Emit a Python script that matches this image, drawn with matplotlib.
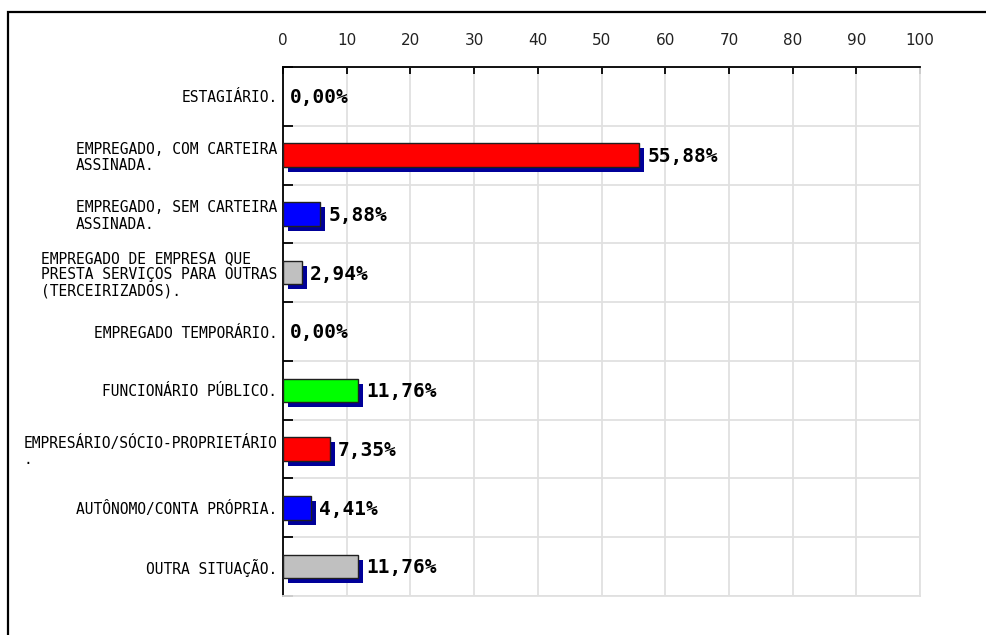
import matplotlib.pyplot as plt
from matplotlib.patches import Rectangle
from matplotlib.transforms import ScaledTranslation

# situação de trabalho dos respondentes (%)
categorias = [
    "ESTAGIÁRIO.",
    "EMPREGADO, COM CARTEIRA\nASSINADA.",
    "EMPREGADO, SEM CARTEIRA\nASSINADA.",
    "EMPREGADO DE EMPRESA QUE\nPRESTA SERVIÇOS PARA OUTRAS\n(TERCEIRIZADOS).",
    "EMPREGADO TEMPORÁRIO.",
    "FUNCIONÁRIO PÚBLICO.",
    "EMPRESÁRIO/SÓCIO-PROPRIETÁRIO\n.",
    "AUTÔNOMO/CONTA PRÓPRIA.",
    "OUTRA SITUAÇÃO.",
]
percentuais = [0.00, 55.88, 5.88, 2.94, 0.00, 11.76, 7.35, 4.41, 11.76]
cores = ["#ff0000", "#ff0000", "#0000ff", "#c0c0c0", "#00ff00",
         "#00ff00", "#ff0000", "#0000ff", "#c0c0c0"]
escala = list(range(0, 101, 10))

W, H = 986, 635
fig = plt.figure(figsize=(W / 100, H / 100), dpi=100)
fig.patch.set_facecolor("white")

# moldura externa
fig.patches.append(Rectangle((8 / W, -0.1), 1.2, 1 - 12 / H + 0.1,
                             transform=fig.transFigure, fill=False,
                             edgecolor="black", linewidth=1.6))

x0, x1, y0, y1 = 283, 920, 67, 596
ax = fig.add_axes([x0 / W, 1 - y1 / H, (x1 - x0) / W, (y1 - y0) / H])

pos = list(range(len(categorias)))
altura = 0.4

# sombra 3D deslocada para direita e para baixo
sombra = ax.transData + ScaledTranslation(5 / 100, -5 / 100, fig.dpi_scale_trans)
for y, v in zip(pos, percentuais):
    if v > 0:
        ax.barh(y, v, height=altura, color="#000099", transform=sombra,
                zorder=2, clip_on=False)
ax.barh([p for p, v in zip(pos, percentuais) if v > 0],
        [v for v in percentuais if v > 0], height=altura,
        color=[c for c, v in zip(cores, percentuais) if v > 0],
        edgecolor="#202020", linewidth=1, zorder=3)

for y, v in zip(pos, percentuais):
    txt = f"{v:.2f}%".replace(".", ",")
    ax.annotate(txt, (v, y), xytext=(6 if v > 0 else 5, -1),
                textcoords="offset points", va="center", ha="left",
                family="DejaVu Sans Mono", fontweight="bold", fontsize=14,
                zorder=4)

ax.set_xlim(0, 100)
ax.set_ylim(len(categorias) - 0.5, -0.5)
ax.set_xticks(escala)
ax.xaxis.tick_top()
ax.tick_params(axis="x", direction="in", length=5, width=1.3, color="black",
               pad=14, labelsize=11, labelcolor="#222222")
ax.set_yticks(pos)
ax.set_yticklabels(categorias, family="DejaVu Sans Mono", fontsize=10.5,
                   multialignment="left", linespacing=1.1)
ax.tick_params(axis="y", which="major", length=0, pad=4)
ax.set_yticks([p - 0.5 for p in pos] + [len(pos) - 0.5], minor=True)
ax.tick_params(axis="y", which="minor", direction="in", length=7,
               width=1.3, color="black")

ax.grid(True, which="major", axis="x", color="#e0e0e0", linewidth=1.3, zorder=0)
ax.grid(True, which="minor", axis="y", color="#e0e0e0", linewidth=1.3, zorder=0)
ax.set_axisbelow(True)
for lado in ("top", "left"):
    ax.spines[lado].set_color("black")
    ax.spines[lado].set_linewidth(1.3)
for lado in ("bottom", "right"):
    ax.spines[lado].set_color("#e0e0e0")
    ax.spines[lado].set_linewidth(1.3)

fig.savefig("out.png", dpi=100)
